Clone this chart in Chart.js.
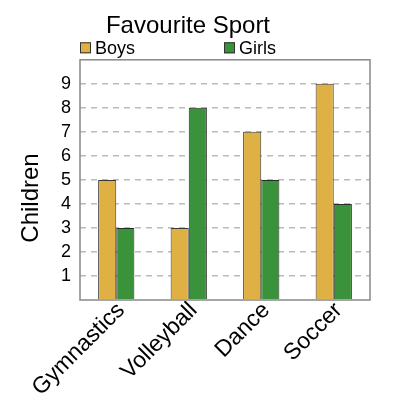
<!DOCTYPE html>
<html>
<head>
<meta charset="utf-8">
<script src="https://cdn.jsdelivr.net/npm/chart.js@4"></script>
<style>
  html, body { margin: 0; padding: 0; background: #fff; }
  #wrap { width: 400px; height: 400px; }
</style>
</head>
<body>
<div id="wrap"><canvas id="chart" width="400" height="400"></canvas></div>
<script>
const sports = ["Gymnastics", "Volleyball", "Dance", "Soccer"];
const boys = [5, 3, 7, 9];
const girls = [3, 8, 5, 4];

const FONT = "'Liberation Sans', Arial, sans-serif";

// outline round the plot area
const frame = {
  id: "frame",
  afterDraw(chart) {
    const a = chart.chartArea;
    const c = chart.ctx;
    c.save();
    c.strokeStyle = "#888";
    c.lineWidth = 1.5;
    c.strokeRect(a.left, a.top, a.right - a.left, a.bottom - a.top);
    c.restore();
  },
};

// legend spread out above the plot, and the y title sitting a bit low, like the original
const extras = {
  id: "extras",
  afterDraw(chart) {
    const a = chart.chartArea;
    const c = chart.ctx;
    const offsets = [0, 144];
    c.save();
    c.font = "18px " + FONT;
    c.textBaseline = "middle";
    chart.data.datasets.forEach((ds, i) => {
      const x = a.left + offsets[i];
      const y = a.top - 12;
      c.fillStyle = ds.backgroundColor;
      c.fillRect(x, y - 5.5, 11, 11);
      c.strokeStyle = "#333";
      c.lineWidth = 1;
      c.strokeRect(x + 0.5, y - 5, 10, 10);
      c.fillStyle = "#000";
      c.fillText(ds.label, x + 15, y + 1);
    });

    c.translate(31, 198);
    c.rotate(-Math.PI / 2);
    c.font = "24px " + FONT;
    c.textAlign = "center";
    c.fillStyle = "#000";
    c.fillText("Children", 0, 0);
    c.restore();
  },
};

Chart.defaults.font.family = FONT;
Chart.defaults.color = "#000";

const ctx = document.getElementById("chart").getContext("2d");
new Chart(ctx, {
  type: "bar",
  data: {
    labels: sports,
    datasets: [
      {
        label: "Boys",
        data: boys,
        backgroundColor: "#dfb043",
        borderColor: "#3a3a3a",
        borderWidth: 1,
      },
      {
        label: "Girls",
        data: girls,
        backgroundColor: "#3a923a",
        borderColor: "#2a2a2a",
        borderWidth: 1,
      },
    ],
  },
  options: {
    responsive: false,
    animation: false,
    layout: { padding: { left: 6, right: 30, top: 0, bottom: 0 } },
    datasets: {
      bar: { barPercentage: 1, categoryPercentage: 0.5 },
    },
    plugins: {
      title: {
        display: true,
        text: "Favourite Sport",
        font: { size: 24, weight: "normal" },
        padding: { top: 12, bottom: 19 },
      },
      legend: { display: false },
      tooltip: { enabled: false },
    },
    scales: {
      x: {
        grid: { display: false, drawTicks: false },
        border: { display: false },
        afterFit: (s) => { s.height = 100; },
        ticks: {
          maxRotation: 45,
          minRotation: 45,
          font: { size: 23 },
          padding: -3,
          labelOffset: 5,
        },
      },
      y: {
        min: 0,
        max: 10,
        afterFit: (s) => { s.width = 74; },
        grid: {
          drawTicks: false,
          color: (c) =>
            c.tick && c.tick.value > 0 && c.tick.value < 10 ? "#bbb" : "rgba(0,0,0,0)",
          lineWidth: 1.5,
        },
        border: { display: false, dash: [6, 5] },
        ticks: {
          stepSize: 1,
          autoSkip: false,
          padding: 9,
          font: { size: 18 },
          callback: (v) => (v > 0 && v < 10 ? v : ""),
        },
      },
    },
  },
  plugins: [frame, extras],
});
</script>
</body>
</html>
